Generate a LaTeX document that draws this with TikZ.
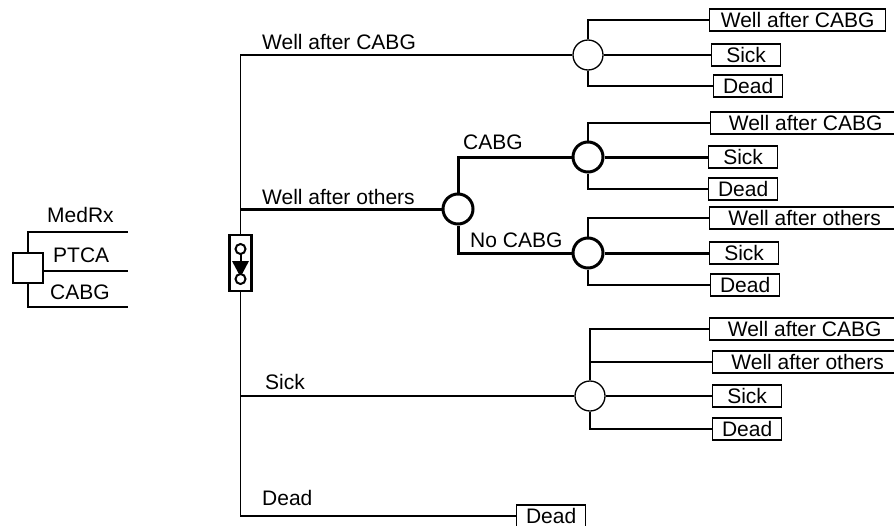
\documentclass[tikz,border=0pt]{standalone}
\usepackage{fontspec}
\setmainfont{Liberation Sans}
\usepackage{tikz}

\begin{document}
\begin{tikzpicture}[x=1pt, y=-1pt,
    every node/.style={font=\fontsize{21}{22}\selectfont},
    branch/.style={line width=1.3pt},
    hot/.style={line width=3pt},
    chance/.style={circle, draw, line width=1.3pt, minimum size=30pt, inner sep=0pt, fill=white},
    hotchance/.style={chance, line width=3pt},
    term/.style={rectangle, draw, line width=1.3pt, minimum height=22pt, minimum width=69pt, inner sep=0pt, anchor=west},
    longterm/.style={term, minimum width=190pt},
    lbl/.style={anchor=base west, inner sep=0pt},
    decision/.style={rectangle, draw, line width=1.3pt, minimum size=30pt, inner sep=0pt},
    markov/.style={rectangle, draw, line width=2.5pt, minimum width=22pt, minimum height=56pt, fill=white}
]
    \clip (0,0) rectangle (894,525);

    % decision node
    \node (dec) [decision] at (28,268) {};
    \coordinate (medrx) at (128,232);
    \coordinate (ptca) at (128,271);
    \coordinate (cabg) at (128,307);
    \draw[branch] (dec.north) |- (medrx);
    \draw[branch] (dec.east |- ptca) -- (ptca);
    \draw[branch] (dec.south) |- (cabg);
    \node (lmedrx) [lbl] at (47,222) {MedRx};
    \node (lptca) [lbl] at (53,262) {PTCA};
    \node (lcabg) [lbl] at (50,299) {CABG};

    % markov node
    \node (mk) [markov] at (240.5,263) {};
    \draw[line width=2pt] (240.5,249) circle (5pt);
    \draw[line width=2pt] (240.5,254) -- (240.5,262);
    \fill (232,261) -- (249,261) -- (240.5,277) -- cycle;
    \draw[line width=2pt, fill=white] (240.5,279) circle (5pt);

    % chance nodes
    \node (ca) [chance] at (588,55) {};
    \node (cb) [hotchance] at (458,209) {};
    \node (cc) [hotchance] at (588,157) {};
    \node (cd) [hotchance] at (588,253) {};
    \node (ce) [chance] at (590,396) {};

    % terminals
    \node (ca1) [term, minimum width=176pt] at (709,20) {Well after CABG};
    \node (ca2) [term] at (711,55) {Sick};
    \node (ca3) [term] at (713,86) {Dead};

    \node (cc1) [longterm] at (710,123) {Well after CABG};
    \node (cc2) [term] at (708,157) {Sick};
    \node (cc3) [term] at (708,189) {Dead};

    \node (cd1) [longterm] at (709,218) {Well after others};
    \node (cd2) [term] at (709,253) {Sick};
    \node (cd3) [term] at (710,285) {Dead};

    \node (ce1) [longterm] at (709,329) {Well after CABG};
    \node (ce2) [longterm] at (712,362) {Well after others};
    \node (ce3) [term] at (712,396) {Sick};
    \node (ce4) [term] at (712,429) {Dead};

    \node (dd) [term] at (516,516) {Dead};

    % trunk
    \draw[branch] (mk.north) |- (ca);
    \draw[hot] (mk.north |- cb) -- (cb);
    \draw[branch] (mk.south) |- (ce);
    \draw[branch] (mk.south) |- (dd.west);
    \node (l1) [lbl] at (262,49) {Well after CABG};
    \node (l2) [lbl] at (262,204) {Well after others};
    \node (l3) [lbl] at (265,389) {Sick};
    \node (l4) [lbl] at (262,505) {Dead};

    % CABG / No CABG
    \draw[hot] (cb) |- (cc);
    \draw[hot] (cb) |- (cd);
    \node (l5) [lbl] at (463,149) {CABG};
    \node (l6) [lbl] at (470,247) {No CABG};

    % outcomes
    \draw[branch] (ca) |- (ca1.west);
    \draw[branch] (ca) -- (ca2.west);
    \draw[branch] (ca) |- (ca3.west);

    \draw[branch] (cc) |- (cc1.west);
    \draw[hot] (cc) -- (cc2.west);
    \draw[branch] (cc) |- (cc3.west);

    \draw[branch] (cd) |- (cd1.west);
    \draw[hot] (cd) -- (cd2.west);
    \draw[branch] (cd) |- (cd3.west);

    \draw[branch] (ce) |- (ce1.west);
    \draw[branch] (ce) |- (ce2.west);
    \draw[branch] (ce) -- (ce3.west);
    \draw[branch] (ce) |- (ce4.west);
\end{tikzpicture}
\end{document}
